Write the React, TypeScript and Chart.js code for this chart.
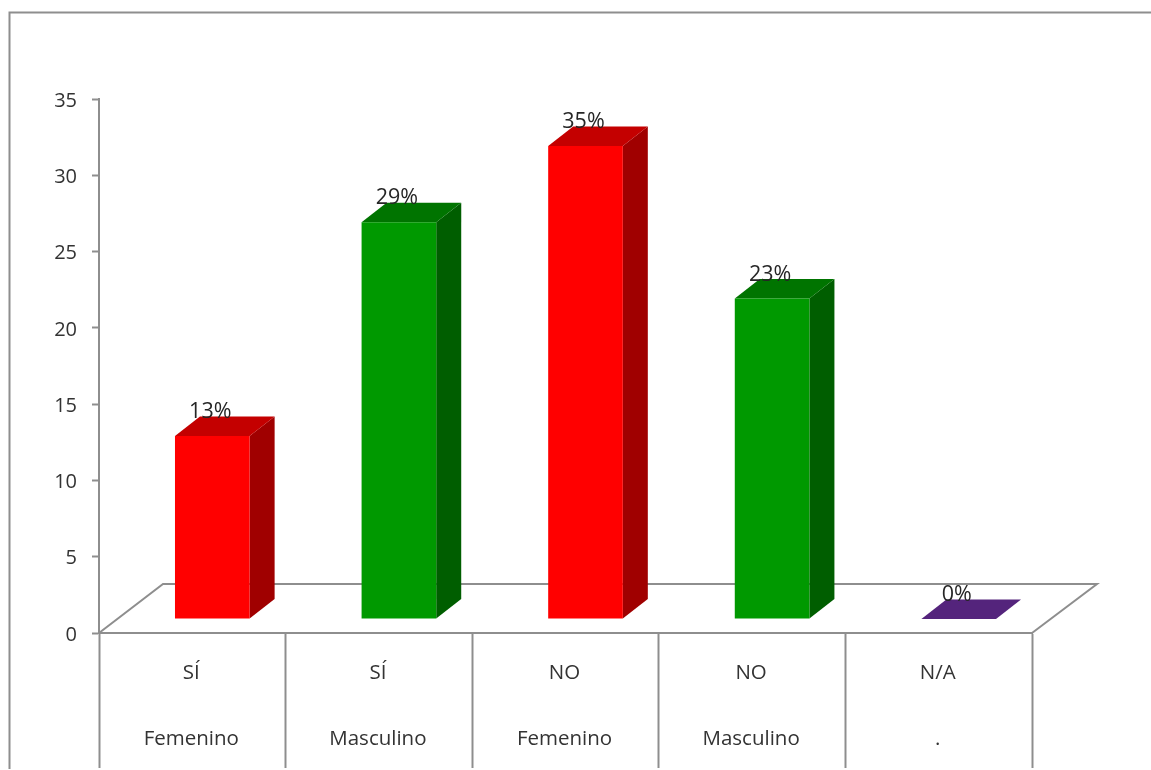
import React, { useEffect, useRef } from "react";
import { Chart, registerables } from "chart.js";

Chart.register(...registerables);

const answers = ["SÍ", "SÍ", "NO", "NO", "N/A"];
const genders = ["Femenino", "Masculino", "Femenino", "Masculino", "."];
const counts = [12, 26, 31, 21, 0];
const percentLabels = ["13%", "29%", "35%", "23%", "0%"];
const frontColors = ["#ff0000", "#009900", "#ff0000", "#009900", "#54247c"];
const topColors = ["#c40000", "#007400", "#c40000", "#007400", "#54247c"];
const sideColors = ["#a00000", "#005e00", "#a00000", "#005e00", "#54247c"];

const LINE = "#8e8e8e";
const TEXT = "#333333";
const FONT = "'Open Sans', sans-serif";
const SHIFT_X = 20;
const SHIFT_Y = -14;
const DEPTH_X = 25;
const DEPTH_Y = -19.5;

const poly = (ctx: CanvasRenderingContext2D, pts: number[][], fill: string) => {
  ctx.beginPath();
  pts.forEach(([x, y], i) => (i ? ctx.lineTo(x, y) : ctx.moveTo(x, y)));
  ctx.closePath();
  ctx.fillStyle = fill;
  ctx.fill();
};

const frame3d = {
  id: "frame3d",
  beforeDraw(chart: any) {
    const { ctx } = chart;
    ctx.save();
    ctx.fillStyle = "#ffffff";
    ctx.fillRect(0, 0, chart.width, chart.height);
    ctx.strokeStyle = LINE;
    ctx.lineWidth = 2;
    ctx.beginPath();
    ctx.moveTo(9.5, 769);
    ctx.lineTo(9.5, 12.5);
    ctx.lineTo(chart.width, 12.5);
    ctx.stroke();
    ctx.restore();
  },
  beforeDatasetsDraw(chart: any) {
    const { ctx, chartArea: a } = chart;
    ctx.save();
    ctx.strokeStyle = LINE;
    ctx.lineWidth = 2;
    ctx.beginPath();
    ctx.moveTo(a.left, a.bottom);
    ctx.lineTo(a.left + 64, a.bottom - 49);
    ctx.lineTo(a.right + 65, a.bottom - 49);
    ctx.lineTo(a.right, a.bottom);
    ctx.stroke();
    ctx.restore();

    ctx.save();
    ctx.translate(SHIFT_X, SHIFT_Y);
    chart.getDatasetMeta(0).data.forEach((bar: any, i: number) => {
      const l = bar.x - bar.width / 2;
      const r = bar.x + bar.width / 2;
      const t = bar.y;
      const b = bar.base;
      poly(ctx, [[r, t], [r + DEPTH_X, t + DEPTH_Y], [r + DEPTH_X, b + DEPTH_Y], [r, b]], sideColors[i]);
      poly(ctx, [[l, t], [l + DEPTH_X, t + DEPTH_Y], [r + DEPTH_X, t + DEPTH_Y], [r, t]], topColors[i]);
    });
  },
  afterDatasetsDraw(chart: any) {
    const { ctx } = chart;
    ctx.restore();
    ctx.save();
    ctx.font = `21.5px ${FONT}`;
    ctx.fillStyle = "#262626";
    ctx.textAlign = "center";
    ctx.textBaseline = "middle";
    chart.getDatasetMeta(0).data.forEach((bar: any, i: number) => {
      ctx.fillText(percentLabels[i], bar.x + SHIFT_X - 2, bar.y + SHIFT_Y - 24);
    });
    ctx.restore();
  },
};

export default function App() {
  const ref = useRef<HTMLCanvasElement>(null);
  useEffect(() => {
    const chart = new Chart(ref.current as HTMLCanvasElement, {
      type: "bar",
      data: {
        labels: answers.map((a, i) => [a, genders[i]]),
        datasets: [
          {
            data: counts,
            backgroundColor: frontColors,
            borderWidth: 0,
            barPercentage: 0.4,
            categoryPercentage: 1,
            clip: false,
          } as any,
        ],
      },
      options: {
        responsive: false,
        animation: false,
        layout: { padding: { top: 99, right: 119, left: 0, bottom: 0 } },
        plugins: { legend: { display: false }, tooltip: { enabled: false }, title: { display: false } },
        scales: {
          x: {
            offset: true,
            grid: {
              offset: true,
              drawOnChartArea: false,
              drawTicks: true,
              tickLength: 135,
              tickWidth: 2,
              tickColor: LINE,
            },
            border: { color: LINE, width: 2 },
            ticks: {
              autoSkip: false,
              maxRotation: 0,
              minRotation: 0,
              padding: -128,
              labelOffset: -1,
              color: TEXT,
              font: { family: FONT, size: 20.5, lineHeight: 3.23 },
            },
            afterFit: (s: any) => {
              s.height = 137;
            },
          },
          y: {
            min: 0,
            max: 35,
            grid: { drawOnChartArea: false, drawTicks: true, tickLength: 7, tickWidth: 2, tickColor: LINE },
            border: { color: LINE, width: 2 },
            ticks: { stepSize: 5, padding: 15, labelOffset: 2, color: TEXT, font: { family: FONT, size: 20 } },
            afterFit: (s: any) => {
              s.width = 99;
            },
          },
        },
      },
      plugins: [frame3d],
    } as any);
    return () => chart.destroy();
  }, []);
  return (
    <canvas
      ref={ref}
      width={1151}
      height={770}
      style={{ position: "fixed", left: 0, top: 0, width: 1151, height: 770, display: "block", filter: "blur(0.4px)" }}
    />
  );
}
